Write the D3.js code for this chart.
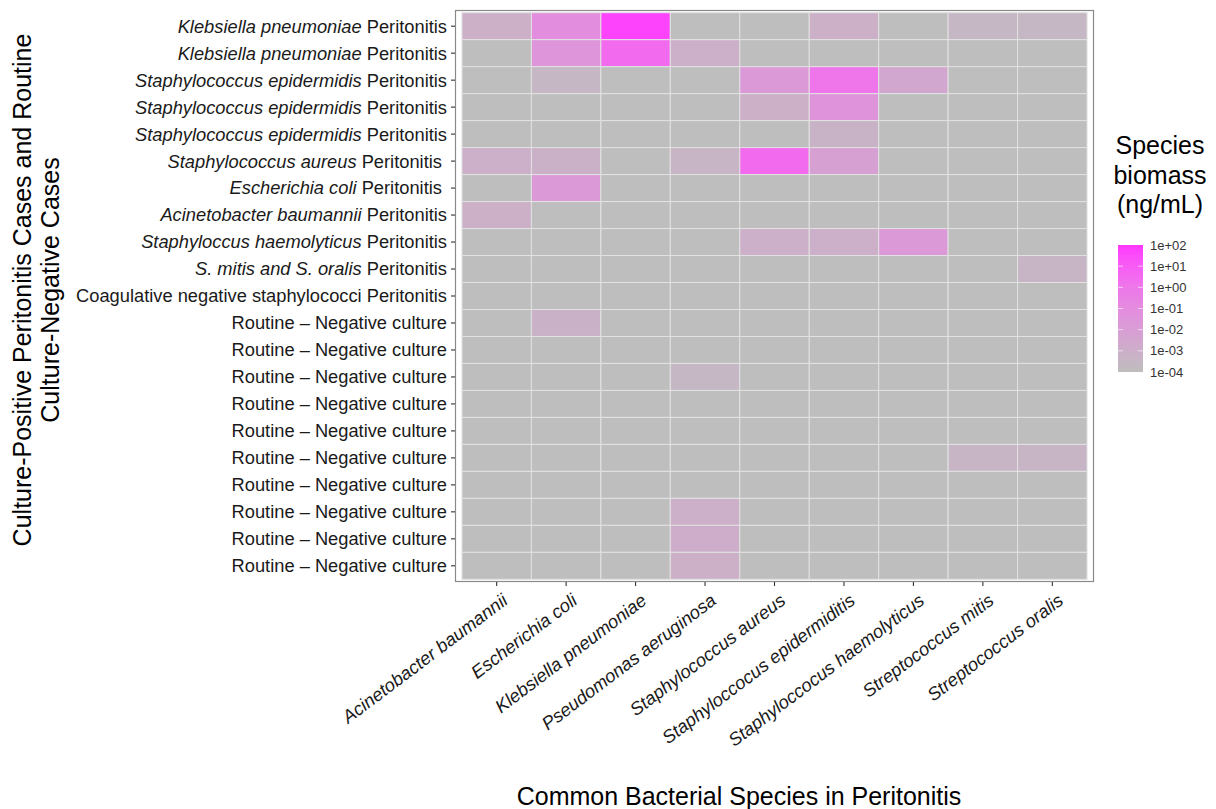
<!DOCTYPE html>
<html>
<head>
<meta charset="utf-8">
<script src="https://cdn.jsdelivr.net/npm/d3@7"></script>
<style>
  html, body { margin: 0; padding: 0; background: #ffffff; }
  svg { display: block; font-family: "Liberation Sans", Arial, Helvetica, sans-serif; }
</style>
</head>
<body>
<svg id="chart" width="1216" height="809"></svg>
<script>
// ---------------- data ----------------
const species = [
  "Acinetobacter baumannii", "Escherichia coli", "Klebsiella pneumoniae",
  "Pseudomonas aeruginosa", "Staphylococcus aureus", "Staphyloccocus epidermiditis",
  "Staphyloccocus haemolyticus", "Streptococcus mitis", "Streptococcus oralis"
];

// each row label: [italic part, plain part]
const rowLabels = [
  ["Klebsiella pneumoniae", " Peritonitis"],
  ["Klebsiella pneumoniae", " Peritonitis"],
  ["Staphylococcus epidermidis", " Peritonitis"],
  ["Staphylococcus epidermidis", " Peritonitis"],
  ["Staphylococcus epidermidis", " Peritonitis"],
  ["Staphylococcus aureus", " Peritonitis "],
  ["Escherichia coli", " Peritonitis "],
  ["Acinetobacter baumannii", " Peritonitis"],
  ["Staphyloccus haemolyticus", " Peritonitis"],
  ["S. mitis and S. oralis", " Peritonitis"],
  ["", "Coagulative negative staphylococci Peritonitis"],
  ["", "Routine \u2013 Negative culture"],
  ["", "Routine \u2013 Negative culture"],
  ["", "Routine \u2013 Negative culture"],
  ["", "Routine \u2013 Negative culture"],
  ["", "Routine \u2013 Negative culture"],
  ["", "Routine \u2013 Negative culture"],
  ["", "Routine \u2013 Negative culture"],
  ["", "Routine \u2013 Negative culture"],
  ["", "Routine \u2013 Negative culture"],
  ["", "Routine \u2013 Negative culture"]
];

// species biomass (ng/mL); 0 = not detected (drawn at the low end)
const positiveBiomass = [
  [8e-4, 0.08, 50,   0,    0,    8e-4, 0,    3e-4, 3e-4],
  [0,    0.03, 3,    1e-3, 0,    0,    0,    0,    0   ],
  [0,    3e-4, 0,    0,    0.02, 1,    3e-3, 0,    0   ],
  [0,    0,    0,    0,    8e-4, 0.04, 0,    0,    0   ],
  [0,    0,    0,    0,    0,    5e-4, 0,    0,    0   ],
  [1e-3, 7e-4, 0,    4e-4, 3,    8e-3, 0,    0,    0   ],
  [0,    0.02, 0,    0,    0,    0,    0,    0,    0   ],
  [8e-4, 0,    0,    0,    0,    0,    0,    0,    0   ],
  [0,    0,    0,    0,    1e-3, 1e-3, 0.02, 0,    0   ],
  [0,    0,    0,    0,    0,    0,    0,    0,    4e-4],
  [0,    0,    0,    0,    0,    0,    0,    0,    0   ]
];
const negativeBiomass = [
  [0,    6e-4, 0,    0,    0,    0,    0,    0,    0   ],
  [0,    0,    0,    0,    0,    0,    0,    0,    0   ],
  [0,    0,    0,    3e-4, 0,    0,    0,    0,    0   ],
  [0,    0,    0,    0,    0,    0,    0,    0,    0   ],
  [0,    0,    0,    0,    0,    0,    0,    0,    0   ],
  [0,    0,    0,    0,    0,    0,    0,    4e-4, 4e-4],
  [0,    0,    0,    0,    0,    0,    0,    0,    0   ],
  [0,    0,    0,    1e-3, 0,    0,    0,    0,    0   ],
  [0,    0,    0,    1.2e-3,0,    0,    0,    0,    0   ],
  [0,    0,    0,    8e-4, 0,    0,    0,    0,    0   ]
];
const legendTicks = [1e-4, 1e-3, 1e-2, 1e-1, 1e0, 1e1, 1e2];

// ---------------- layout ----------------
const svg = d3.select("#chart");
const panel = { left: 455, right: 1094, top: 10, bottom: 582 };
const nRows = rowLabels.length;
const nCols = species.length;
const unitX = (panel.right - panel.left) / (nCols + 0.2);
const unitY = (panel.bottom - panel.top) / (nRows + 0.2);

const x = d3.scaleBand().domain(species)
  .range([panel.left + 0.1 * unitX, panel.right - 0.1 * unitX]).padding(0);
const y = d3.scaleBand().domain(d3.range(nRows))
  .range([panel.top + 0.1 * unitY, panel.bottom - 0.1 * unitY]).padding(0);

const color = d3.scaleLog().domain([1e-4, 1e2])
  .range(["#BEBEBE", "#FF36FF"]).interpolate(d3.interpolateLab).clamp(true);

const allRows = positiveBiomass.concat(negativeBiomass);
const cells = [];
allRows.forEach((row, i) => row.forEach((v, j) => cells.push({ r: i, c: species[j], v })));

// panel background
svg.append("rect")
  .attr("x", panel.left).attr("y", panel.top)
  .attr("width", panel.right - panel.left).attr("height", panel.bottom - panel.top)
  .attr("fill", "#ffffff");

// tiles
svg.append("g").selectAll("rect").data(cells).join("rect")
  .attr("x", d => x(d.c)).attr("y", d => y(d.r))
  .attr("width", x.bandwidth()).attr("height", y.bandwidth())
  .attr("fill", d => color(d.v > 0 ? d.v : 1e-4))
  .attr("stroke", "#e2e2e2").attr("stroke-width", 1);

// panel border
svg.append("rect")
  .attr("x", panel.left + 0.5).attr("y", panel.top + 0.5)
  .attr("width", panel.right - panel.left - 1).attr("height", panel.bottom - panel.top - 1)
  .attr("fill", "none").attr("stroke", "#8a8a8a").attr("stroke-width", 1.2);

// y axis
const yAxis = svg.append("g")
  .attr("transform", `translate(${panel.left},0)`)
  .call(d3.axisLeft(y).tickSize(4).tickPadding(4).tickFormat(() => ""));
yAxis.select(".domain").remove();
yAxis.selectAll(".tick line").attr("stroke", "#333333").attr("stroke-width", 1.1);
yAxis.selectAll(".tick text").each(function (d) {
  const t = d3.select(this);
  const lab = rowLabels[d];
  t.text(null).attr("fill", "#1a1a1a").attr("font-size", 18.3)
    .attr("text-anchor", "end").attr("x", -8).attr("dy", "0.35em");
  if (lab[0]) t.append("tspan").attr("font-style", "italic").text(lab[0]);
  t.append("tspan").attr("xml:space", "preserve").style("white-space", "pre").text(lab[1]);
});

// x axis
const xAxis = svg.append("g")
  .attr("transform", `translate(0,${panel.bottom})`)
  .call(d3.axisBottom(x).tickSize(4).tickPadding(0));
xAxis.select(".domain").remove();
xAxis.selectAll(".tick line").attr("stroke", "#333333").attr("stroke-width", 1.1);
xAxis.selectAll(".tick text")
  .attr("fill", "#1a1a1a").attr("font-size", 18.3).attr("font-style", "italic")
  .attr("text-anchor", "end").attr("y", 0).attr("dy", "0.75em")
  .attr("transform", "translate(4,10) rotate(-37)");

// axis titles
svg.append("text")
  .attr("x", 739).attr("y", 805)
  .attr("text-anchor", "middle").attr("font-size", 25).attr("fill", "#000")
  .text("Common Bacterial Species in Peritonitis");

const yTitle = svg.append("text")
  .attr("transform", "translate(31,290) rotate(-90)")
  .attr("text-anchor", "middle").attr("font-size", 25).attr("fill", "#000");
yTitle.append("tspan").attr("x", 0).attr("y", 0).text("Culture-Positive Peritonitis Cases and Routine");
yTitle.append("tspan").attr("x", 0).attr("y", 28).text("Culture-Negative Cases");

// legend
const legTitle = svg.append("text")
  .attr("text-anchor", "middle").attr("font-size", 25).attr("fill", "#000");
["Species", "biomass", "(ng/mL)"].forEach((s, i) =>
  legTitle.append("tspan").attr("x", 1160).attr("y", 154 + i * 29.5).text(s));

const bar = { x: 1118, w: 25, top: 245, bottom: 372 };
const ly = d3.scaleLog().domain([1e-4, 1e2]).range([bar.bottom, bar.top]);
const defs = svg.append("defs");
const grad = defs.append("linearGradient").attr("id", "lg")
  .attr("x1", 0).attr("y1", 1).attr("x2", 0).attr("y2", 0);
d3.range(0, 1.0001, 0.05).forEach(t => {
  const v = Math.pow(10, -4 + 6 * t);
  grad.append("stop").attr("offset", t).attr("stop-color", color(v));
});
svg.append("rect")
  .attr("x", bar.x).attr("y", bar.top).attr("width", bar.w).attr("height", bar.bottom - bar.top)
  .attr("fill", "url(#lg)");

const fmt = d => {
  const e = Math.round(Math.log10(d));
  return "1e" + (e < 0 ? "-" : "+") + String(Math.abs(e)).padStart(2, "0");
};
const legG = svg.append("g");
legendTicks.forEach(v => {
  const yy = ly(v);
  if (v > 1e-4 && v < 1e2) {
    legG.append("line").attr("x1", bar.x).attr("x2", bar.x + 5).attr("y1", yy).attr("y2", yy)
      .attr("stroke", "#ffffff").attr("stroke-opacity", 0.6);
    legG.append("line").attr("x1", bar.x + bar.w - 5).attr("x2", bar.x + bar.w).attr("y1", yy).attr("y2", yy)
      .attr("stroke", "#ffffff").attr("stroke-opacity", 0.6);
  }
  legG.append("text").attr("x", bar.x + bar.w + 7).attr("y", yy).attr("dy", "0.35em")
    .attr("font-size", 13).attr("fill", "#333333").text(fmt(v));
});
</script>
</body>
</html>
